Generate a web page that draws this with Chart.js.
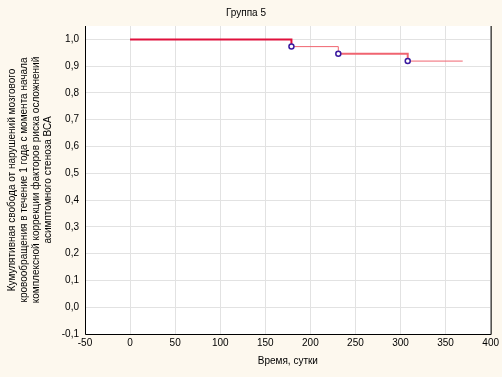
<!DOCTYPE html>
<html>
<head>
<meta charset="utf-8">
<script src="https://cdn.jsdelivr.net/npm/chart.js@4.4.1/dist/chart.umd.min.js"></script>
<style>
  html, body { margin: 0; padding: 0; background: #fdf8ee; }
  #wrap { width: 502px; height: 377px; }
</style>
</head>
<body>
<div id="wrap"><canvas id="km"></canvas></div>
<script>
// Кривая Каплана-Мейера, группа 5
const days = [0, 179, 231, 308, 369];
const survival = [1.0, 0.973, 0.946, 0.919, 0.919];
const marks = [0, 1, 1, 1, 0];   // где рисовать кружок
const yLabel = [
    "Кумулятивная свобода от нарушений мозгового",
    "кровообращения в течение 1 года с момента начала",
    "комплексной коррекции факторов риска осложнений",
    "асимптомного стеноза ВСА"
];

const points = days.map((d, i) => ({ x: d, y: survival[i] }));

// белое поле графика + чёрная рамка слева, снизу, справа
const plotBg = {
    id: "plotBg",
    beforeDraw(chart) {
        const { ctx, chartArea: a } = chart;
        ctx.save();
        ctx.fillStyle = "#ffffff";
        ctx.fillRect(a.left, a.top, a.right - a.left, a.bottom - a.top);
        ctx.restore();
    },
    afterDatasetsDraw(chart) {
        const { ctx, chartArea: a } = chart;
        ctx.save();
        ctx.strokeStyle = "#000";
        ctx.lineWidth = 1;
        ctx.beginPath();
        ctx.moveTo(a.left + 0.5, a.top);
        ctx.lineTo(a.left + 0.5, a.bottom + 0.5);
        ctx.lineTo(a.right + 0.5, a.bottom + 0.5);
        ctx.lineTo(a.right + 0.5, a.top);
        ctx.stroke();
        ctx.restore();
    }
};

Chart.defaults.font.family = "'Liberation Sans', Arial, sans-serif";
Chart.defaults.font.size = 10;
Chart.defaults.color = "#000";

new Chart(document.getElementById("km").getContext("2d"), {
    type: "line",
    data: {
        datasets: [{
            data: points,
            stepped: "before",
            borderWidth: 1,
            borderColor: "#f06470",
            segment: {
                borderColor: c => c.p0DataIndex === 0 ? "#e0103c" : "#f06470",
                borderWidth: c => (c.p0DataIndex === 0 || c.p0DataIndex === 2) ? 2 : 1
            },
            pointRadius: marks.map(m => m ? 2.5 : 0),
            pointBorderColor: "#3a1aa0",
            pointBackgroundColor: "#ffffff",
            pointBorderWidth: 1.5,
            fill: false
        }]
    },
    options: {
        responsive: true,
        maintainAspectRatio: false,
        animation: false,
        layout: { padding: { left: 0, right: 10, top: 0, bottom: 6 } },
        plugins: {
            legend: { display: false },
            tooltip: { enabled: false },
            title: {
                display: true,
                text: "Группа 5",
                font: { size: 10, weight: "normal" },
                padding: { top: 7, bottom: 7 }
            }
        },
        scales: {
            x: {
                type: "linear",
                min: -50,
                max: 400,
                ticks: { stepSize: 50, padding: 3 },
                grid: { color: "#e2e2e2", drawTicks: false },
                border: { display: false },
                title: { display: true, text: "Время, сутки", padding: { top: 3 } }
            },
            y: {
                min: -0.1,
                max: 1.05,
                afterBuildTicks: s => { s.ticks = s.ticks.filter(t => t.value <= 1.0001); },
                ticks: {
                    stepSize: 0.1,
                    padding: 6,
                    callback: v => v.toFixed(1).replace(".", ",")
                },
                grid: { color: "#e2e2e2", drawTicks: false },
                border: { display: false },
                afterFit: s => { s.width = 85; },
                title: {
                    display: true,
                    text: yLabel,
                    font: { size: 10, lineHeight: 1.2 },
                    padding: { top: 6, bottom: 4 }
                }
            }
        }
    },
    plugins: [plotBg]
});
</script>
</body>
</html>
